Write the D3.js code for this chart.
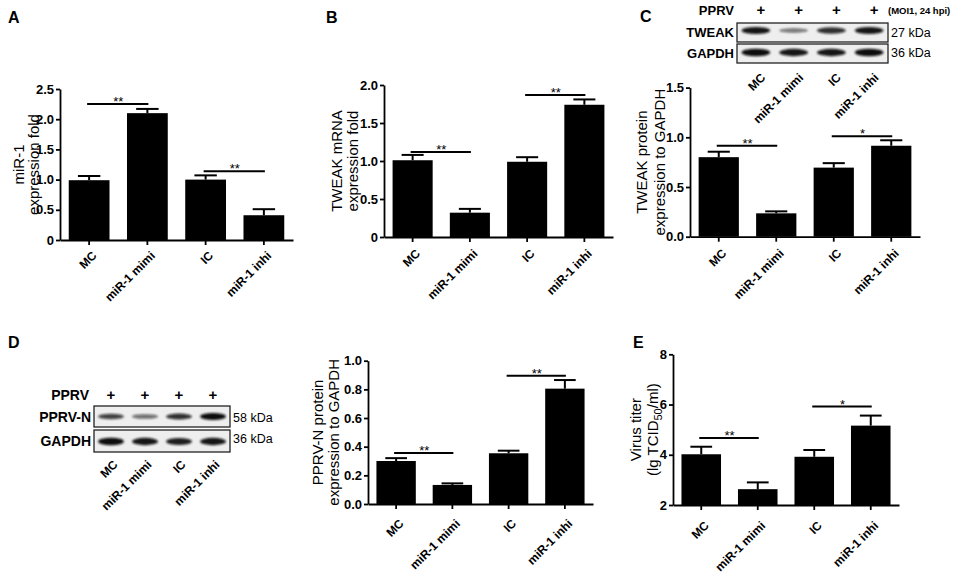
<!DOCTYPE html>
<html>
<head>
<meta charset="utf-8">
<script src="https://cdn.jsdelivr.net/npm/d3@7"></script>
<style>
  body { margin: 0; background: #fff; }
  svg { display: block; }
</style>
</head>
<body>
<svg id="fig" width="957" height="578"></svg>
<script>
var groups = ["MC", "miR-1 mimi", "IC", "miR-1 inhi"];

// A: miR-1 expression
var mirMean  = [0.99, 2.10, 1.00, 0.41];
var mirErr   = [0.07, 0.07, 0.07, 0.10];
var mirTicks = [0, 0.5, 1.0, 1.5, 2.0, 2.5];
var mirTickText = ["0", "0.5", "1.0", "1.5", "2.0", "2.5"];
var mirSig   = [[0, 1, 2.25, "**"], [2, 3, 1.14, "**"]];

// B: TWEAK mRNA
var mrnaMean  = [1.01, 0.32, 0.99, 1.74];
var mrnaErr   = [0.07, 0.05, 0.06, 0.07];
var mrnaTicks = [0, 0.5, 1.0, 1.5, 2.0];
var mrnaTickText = ["0", "0.5", "1.0", "1.5", "2.0"];
var mrnaSig   = [[0, 1, 1.12, "**"], [2, 3, 1.87, "**"]];

// C: TWEAK protein / GAPDH
var tweakMean  = [0.80, 0.235, 0.695, 0.915];
var tweakErr   = [0.055, 0.02, 0.045, 0.055];
var tweakTicks = [0, 0.5, 1.0, 1.5];
var tweakTickText = ["0.0", "0.5", "1.0", "1.5"];
var tweakSig   = [[0, 1, 0.915, "**"], [2, 3, 1.01, "*"]];

// D: PPRV-N protein / GAPDH
var pprvMean  = [0.30, 0.133, 0.354, 0.805];
var pprvErr   = [0.02, 0.011, 0.018, 0.06];
var pprvTicks = [0, 0.2, 0.4, 0.6, 0.8, 1.0];
var pprvTickText = ["0.0", "0.2", "0.4", "0.6", "0.8", "1.0"];
var pprvSig   = [[0, 1, 0.356, "**"], [2, 3, 0.895, "**"]];

// E: virus titer
var titerMean  = [4.02, 2.63, 3.92, 5.16];
var titerErr   = [0.30, 0.27, 0.27, 0.40];
var titerTicks = [2, 4, 6, 8];
var titerTickText = ["2", "4", "6", "8"];
var titerSig   = [[0, 1, 4.67, "**"], [2, 3, 5.92, "*"]];

// western blot band strength (0..1)
var blotTweak  = [0.95, 0.40, 0.80, 0.95];
var blotGapdhC = [1.0, 0.95, 0.95, 1.0];
var blotPprvN  = [0.70, 0.45, 0.80, 1.0];
var blotGapdhD = [1.0, 0.95, 0.90, 0.95];

var FONT = "'Liberation Sans', Arial, Helvetica, sans-serif";
var svg = d3.select("#fig");

var defs = svg.append("defs");
defs.append("filter").attr("id", "blur").attr("x", "-30%").attr("y", "-100%")
    .attr("width", "160%").attr("height", "300%")
  .append("feGaussianBlur").attr("stdDeviation", 1.1);

function barPanel(p) {
  var g = svg.append("g").attr("class", "panel");
  var x = d3.scaleBand().domain(groups).range([p.x0, p.x1])
      .paddingInner(0.3).paddingOuter(0.15);
  var y = d3.scaleLinear().domain(p.domain).range([p.yb, p.yt]);
  var base = y(p.domain[0]);

  // bars
  g.selectAll("rect.bar").data(p.mean).enter().append("rect")
    .attr("class", "bar")
    .attr("x", function(d, i) { return x(groups[i]); })
    .attr("width", x.bandwidth())
    .attr("y", function(d) { return y(d); })
    .attr("height", function(d) { return base - y(d); })
    .attr("fill", "#000");

  // error bars (upper only)
  var cw = x.bandwidth() * 0.55;
  var eb = g.selectAll("g.err").data(p.mean).enter().append("g").attr("class", "err")
    .attr("stroke", "#000").attr("stroke-width", 2);
  eb.append("line")
    .attr("x1", function(d, i) { return x(groups[i]) + x.bandwidth() / 2; })
    .attr("x2", function(d, i) { return x(groups[i]) + x.bandwidth() / 2; })
    .attr("y1", function(d) { return y(d); })
    .attr("y2", function(d, i) { return y(d + p.err[i]); });
  eb.append("line")
    .attr("x1", function(d, i) { return x(groups[i]) + x.bandwidth() / 2 - cw / 2; })
    .attr("x2", function(d, i) { return x(groups[i]) + x.bandwidth() / 2 + cw / 2; })
    .attr("y1", function(d, i) { return y(d + p.err[i]); })
    .attr("y2", function(d, i) { return y(d + p.err[i]); });

  // y axis
  var ya = g.append("g").attr("transform", "translate(" + p.x0 + ",0)")
    .call(d3.axisLeft(y).tickValues(p.ticks)
      .tickFormat(function(d, i) { return p.tickText[i]; })
      .tickSize(4).tickSizeOuter(0).tickPadding(2));
  ya.attr("font-family", FONT).attr("font-size", 13).attr("font-weight", "bold");
  ya.selectAll(".domain, .tick line").attr("stroke", "#000").attr("stroke-width", 1.8);
  ya.selectAll("text").attr("fill", "#000");

  // x axis
  var xa = g.append("g").attr("transform", "translate(0," + base + ")")
    .call(d3.axisBottom(x).tickSize(5).tickSizeOuter(0));
  xa.attr("font-family", FONT).attr("font-size", 12).attr("font-weight", "bold");
  xa.selectAll(".domain, .tick line").attr("stroke", "#000").attr("stroke-width", 1.8);
  xa.selectAll("text")
    .attr("fill", "#000")
    .attr("text-anchor", "end")
    .attr("y", 0).attr("x", 0)
    .attr("dy", "0.75em")
    .attr("transform", "translate(2," + p.gap + ") rotate(-45)");

  // significance
  var sg = g.selectAll("g.sig").data(p.sig).enter().append("g").attr("class", "sig");
  sg.append("line")
    .attr("x1", function(d) { return x(groups[d[0]]) + x.bandwidth() / 2 - 2; })
    .attr("x2", function(d) { return x(groups[d[1]]) + x.bandwidth() / 2 + 1; })
    .attr("y1", function(d) { return y(d[2]); })
    .attr("y2", function(d) { return y(d[2]); })
    .attr("stroke", "#000").attr("stroke-width", 2);
  sg.append("text")
    .attr("x", function(d) { return (x(groups[d[0]]) + x(groups[d[1]]) + x.bandwidth()) / 2; })
    .attr("y", function(d) { return y(d[2]) + 2; })
    .attr("text-anchor", "middle")
    .attr("font-family", FONT).attr("font-size", 13)
    .text(function(d) { return d[3]; });

  // y title
  var cy = (p.yb + p.yt) / 2;
  p.title.forEach(function(line, i) {
    var t = g.append("text")
      .attr("transform", "translate(" + p.titleX[i] + "," + cy + ") rotate(-90)")
      .attr("text-anchor", "middle")
      .attr("font-family", FONT).attr("font-size", 15)
      .attr("fill", "#000");
    if (typeof line === "string") t.text(line);
    else line(t);
  });
  return g;
}

function blot(b) {
  var g = svg.append("g").attr("class", "blot");
  var lane = d3.scaleBand().domain(groups).range([b.left, b.right]);
  var lc = function(i) { return lane(groups[i]) + lane.bandwidth() / 2; };

  // PPRV + row
  g.append("text").attr("x", b.left - 3 + b.pprvShift).attr("y", b.pprvY)
    .attr("text-anchor", "end").attr("font-family", FONT)
    .attr("font-size", b.labelSize).attr("font-weight", "bold").text("PPRV");
  g.selectAll("text.plus").data(groups).enter().append("text")
    .attr("class", "plus")
    .attr("x", function(d, i) { return lc(i) + b.plusShift; })
    .attr("y", b.pprvY)
    .attr("text-anchor", "middle").attr("font-family", FONT)
    .attr("font-size", 15).attr("font-weight", "bold").text("+");

  b.rows.forEach(function(r) {
    g.append("rect").attr("x", b.left).attr("y", r.top)
      .attr("width", b.right - b.left).attr("height", r.bottom - r.top)
      .attr("fill", "#eeeeee").attr("stroke", "#222").attr("stroke-width", 1.3);
    g.append("g").attr("filter", "url(#blur)")
      .selectAll("ellipse").data(r.bands).enter().append("ellipse")
      .attr("cx", function(d, i) { return lc(i); })
      .attr("cy", r.bandY)
      .attr("rx", lane.bandwidth() * 0.38)
      .attr("ry", function(d) { return 1.4 + r.bandH * d; })
      .attr("fill", "#111")
      .attr("opacity", function(d) { return 0.25 + 0.75 * d; });
    g.append("text").attr("x", b.left - 3).attr("y", r.labelY)
      .attr("text-anchor", "end").attr("font-family", FONT)
      .attr("font-size", b.labelSize).attr("font-weight", "bold").text(r.label);
    g.append("text").attr("x", b.right + 3).attr("y", r.kdaY)
      .attr("font-family", FONT).attr("font-size", 12.5).text(r.kda);
  });

  g.selectAll("text.lane").data(groups).enter().append("text")
    .attr("class", "lane")
    .attr("text-anchor", "end").attr("font-family", FONT)
    .attr("font-size", b.laneSize).attr("font-weight", "bold")
    .attr("dy", "0.75em")
    .attr("transform", function(d, i) {
      return "translate(" + (lc(i) + b.laneShift) + "," + b.laneY + ") rotate(-45)";
    })
    .text(function(d) { return d; });
  return g;
}

function letter(ch, x, y) {
  svg.append("text").attr("x", x).attr("y", y)
    .attr("font-family", FONT).attr("font-size", 16).attr("font-weight", "bold")
    .text(ch);
}

// Panel A
letter("A", 8, 23);
barPanel({x0: 60, x1: 293, yb: 240, yt: 89, domain: [0, 2.5],
  mean: mirMean, err: mirErr, ticks: mirTicks, tickText: mirTickText, sig: mirSig,
  title: ["miR-1", "expression fold"], titleX: [24, 39], gap: 10});

// Panel B
letter("B", 326, 23);
barPanel({x0: 384, x1: 613, yb: 237, yt: 85, domain: [0, 2],
  mean: mrnaMean, err: mrnaErr, ticks: mrnaTicks, tickText: mrnaTickText, sig: mrnaSig,
  title: ["TWEAK mRNA", "expression fold"], titleX: [342, 358], gap: 11});

// Panel C
letter("C", 640, 22);
blot({left: 737, right: 888, pprvY: 15, pprvShift: 0, plusShift: 5, labelSize: 13, laneSize: 12,
  laneY: 72, laneShift: 4,
  rows: [
    {label: "TWEAK", top: 23, bottom: 42, bandY: 30.5, bandH: 2.2, bands: blotTweak, labelY: 37, kda: "27 kDa", kdaY: 37},
    {label: "GAPDH", top: 44, bottom: 63, bandY: 52.5, bandH: 2.4, bands: blotGapdhC, labelY: 58, kda: "36 kDa", kdaY: 57}
  ]});
svg.append("text").attr("x", 888).attr("y", 14)
  .attr("font-family", FONT).attr("font-size", 9.5).attr("font-weight", "bold")
  .text("(MOI1, 24 hpi)");
barPanel({x0: 690, x1: 920, yb: 236.7, yt: 87.6, domain: [0, 1.5],
  mean: tweakMean, err: tweakErr, ticks: tweakTicks, tickText: tweakTickText, sig: tweakSig,
  title: ["TWEAK protein", "expression to GAPDH"], titleX: [647, 665], gap: 11});

// Panel D
letter("D", 8, 348);
blot({left: 94, right: 230, pprvY: 400, pprvShift: -2, plusShift: 0, labelSize: 14, laneSize: 12,
  laneY: 459, laneShift: 1,
  rows: [
    {label: "PPRV-N", top: 406, bottom: 427, bandY: 416.5, bandH: 2.0, bands: blotPprvN, labelY: 422, kda: "58 kDa", kdaY: 422},
    {label: "GAPDH", top: 430, bottom: 452, bandY: 441.5, bandH: 2.4, bands: blotGapdhD, labelY: 446, kda: "36 kDa", kdaY: 443}
  ]});
barPanel({x0: 368, x1: 593, yb: 504, yt: 360.7, domain: [0, 1],
  mean: pprvMean, err: pprvErr, ticks: pprvTicks, tickText: pprvTickText, sig: pprvSig,
  title: ["PPRV-N protein", "expression to GAPDH"], titleX: [323, 339], gap: 14});

// Panel E
letter("E", 633, 348);
barPanel({x0: 673, x1: 899, yb: 505, yt: 354.3, domain: [2, 8],
  mean: titerMean, err: titerErr, ticks: titerTicks, tickText: titerTickText, sig: titerSig,
  title: ["Virus titer", function(t) {
    t.append("tspan").text("(lg TCID");
    t.append("tspan").attr("font-size", 11).attr("dy", 4).text("50");
    t.append("tspan").attr("dy", -4).text("/ml)");
  }], titleX: [641, 658], gap: 15});
</script>
</body>
</html>
